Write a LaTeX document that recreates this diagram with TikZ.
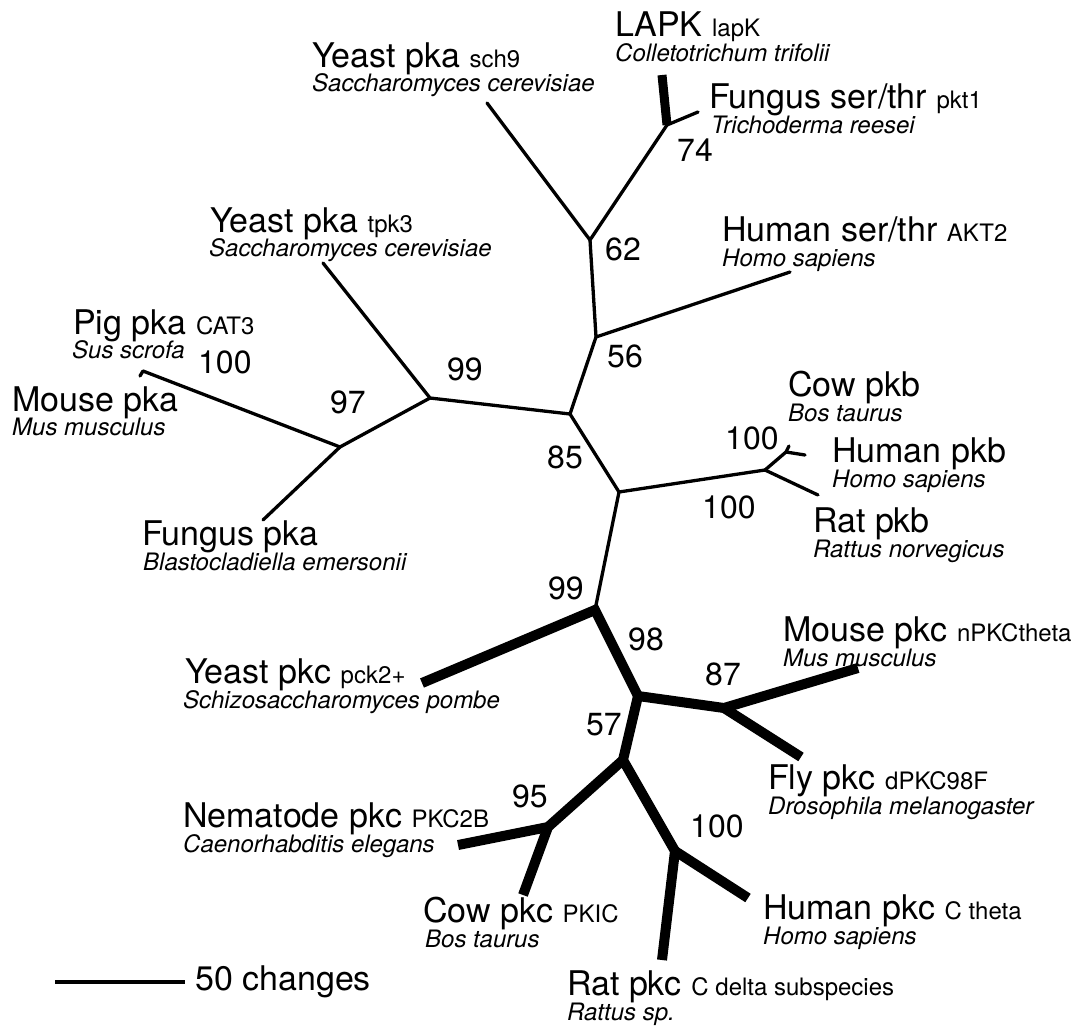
\documentclass[tikz,border=0pt]{standalone}
\usepackage{fontspec}
\setmainfont{TeX Gyre Heros}
\newcommand\cd[1]{{\fontsize{24}{28}\selectfont #1}}
\begin{document}
\begin{tikzpicture}[x=1pt,y=-1pt,
  brthin/.style={line width=3.3pt, line cap=round, line join=round},
  brthick/.style={line width=10pt, line cap=butt, line join=miter},
  jdot/.style={fill=black},
  lab/.style={anchor=base west, inner sep=0pt, font=\fontsize{34}{40}\selectfont},
  spc/.style={anchor=base west, inner sep=0pt, font=\fontsize{24}{28}\selectfont\itshape},
  num/.style={anchor=base west, inner sep=0pt, font=\fontsize{32}{38}\selectfont}]
\useasboundingbox (0,0) rectangle (1081,1025);

% junctions and tips
\coordinate (n74) at (667,125);
\coordinate (tLAPK) at (662,75);
\coordinate (tPKT1) at (698,112);
\coordinate (n62) at (590,240);
\coordinate (tSCH9) at (487,103);
\coordinate (n56) at (596,337);
\coordinate (tAKT2) at (790,272);
\coordinate (n85) at (570,414);
\coordinate (n99a) at (430,398);
\coordinate (tTPK3) at (323,263);
\coordinate (n97) at (340,447);
\coordinate (tPIG) at (143,371);
\coordinate (tMOUSEA) at (140,376);
\coordinate (tFUNGA) at (263,520);
\coordinate (npkb) at (619,492);
\coordinate (npkb2) at (765,470);
\coordinate (tRATB) at (818,495);
\coordinate (npkb3) at (786,452);
\coordinate (tCOWB) at (789,446);
\coordinate (tHUMB) at (805,455);
\coordinate (n99b) at (595,610);
\coordinate (tYPKC) at (422,683);
\coordinate (n98) at (638,696);
\coordinate (n87) at (724,708);
\coordinate (tMPKC) at (858,668);
\coordinate (tFLY) at (801,757);
\coordinate (n57) at (623,760);
\coordinate (n95) at (548,827);
\coordinate (tNEM) at (458,845);
\coordinate (tCOWC) at (523,895);
\coordinate (n100) at (675,851);
\coordinate (tHUMC) at (748,898);
\coordinate (tRATC) at (662,960);
\coordinate (sb1) at (55,982);
\coordinate (sb2) at (185,982);

% thin branches
\draw[brthin] (tSCH9) -- (n62) -- (n74) -- (tPKT1);
\draw[brthin] (n62) -- (n56) -- (tAKT2);
\draw[brthin] (n56) -- (n85) -- (n99a) -- (tTPK3);
\draw[brthin] (n99a) -- (n97) -- (tPIG) -- (tMOUSEA);
\draw[brthin] (n97) -- (tFUNGA);
\draw[brthin] (n85) -- (npkb) -- (npkb2) -- (tRATB);
\draw[brthin] (npkb2) -- (npkb3) -- (tCOWB);
\draw[brthin] (npkb3) -- (tHUMB);
\draw[brthin] (npkb) -- (n99b);

% thick branches
\draw[brthick, line width=9pt] (n74) -- (tLAPK);
\draw[brthick] (tYPKC) -- (n99b) -- (n98) -- (n87) -- (tMPKC);
\draw[brthick] (n87) -- (tFLY);
\draw[brthick] (n98) -- (n57) -- (n100) -- (tRATC);
\draw[brthick] (n100) -- (tHUMC);
\draw[brthick] (n57) -- (n95) -- (tNEM);
\draw[brthick] (n95) -- (tCOWC);
\foreach \j in {n99b,n98,n87,n57,n95,n100} \fill[jdot] (\j) circle (5pt);

% scale bar
\draw[line width=4pt] (sb1) -- (sb2);
\node[lab] (scl) at (195,990) {50 changes};

% taxon labels
\node[lab] (lapk) at (615,37) {LAPK \cd{lapK}};
\node[spc] (lapks) at (615,62) {Colletotrichum trifolii};
\node[lab] (pkt1) at (709,108) {Fungus ser/thr \cd{pkt1}};
\node[spc] (pkt1s) at (711,133) {Trichoderma reesei};
\node[lab] (sch9) at (312,67) {Yeast pka \cd{sch9}};
\node[spc] (sch9s) at (312,92) {Saccharomyces cerevisiae};
\node[lab] (akt2) at (722,241) {Human ser/thr \cd{AKT2}};
\node[spc] (akt2s) at (722,266) {Homo sapiens};
\node[lab] (tpk3) at (210,232) {Yeast pka \cd{tpk3}};
\node[spc] (tpk3s) at (209,256) {Saccharomyces cerevisiae};
\node[lab] (pig) at (73,334) {Pig pka \cd{CAT3}};
\node[spc] (pigs) at (72,358) {Sus scrofa};
\node[lab] (mousea) at (12,411) {Mouse pka};
\node[spc] (mouseas) at (12,435) {Mus musculus};
\node[lab] (funga) at (142,545) {Fungus pka};
\node[spc] (fungas) at (143,570) {Blastocladiella emersonii};
\node[lab] (cowb) at (788,396) {Cow pkb};
\node[spc] (cowbs) at (788,421) {Bos taurus};
\node[lab] (humb) at (832,462) {Human pkb};
\node[spc] (humbs) at (832,487) {Homo sapiens};
\node[lab] (ratb) at (813,532) {Rat pkb};
\node[spc] (ratbs) at (813,557) {Rattus norvegicus};
\node[lab] (mpkc) at (783,641) {Mouse pkc \cd{nPKCtheta}};
\node[spc] (mpkcs) at (783,666) {Mus musculus};
\node[lab] (fly) at (768,789) {Fly pkc \cd{dPKC98F}};
\node[spc] (flys) at (768,814) {Drosophila melanogaster};
\node[lab] (humc) at (763,919) {Human pkc \cd{C theta}};
\node[spc] (humcs) at (763,944) {Homo sapiens};
\node[lab] (ratc) at (567,995) {Rat pkc \cd{C delta subspecies}};
\node[spc] (ratcs) at (567,1020) {Rattus sp.};
\node[lab] (cowc) at (423,922) {Cow pkc \cd{PKIC}};
\node[spc] (cowcs) at (425,947) {Bos taurus};
\node[lab] (nem) at (183,827) {Nematode pkc \cd{PKC2B}};
\node[spc] (nems) at (183,852) {Caenorhabditis elegans};
\node[lab] (ypkc) at (185,683) {Yeast pkc \cd{pck2+}};
\node[spc] (ypkcs) at (183,708) {Schizosaccharomyces pombe};

% bootstrap values
\node[num] (b74) at (677,161) {74};
\node[num] (b62) at (605,260) {62};
\node[num] (b56) at (607,367) {56};
\node[num] (b99a) at (447,380) {99};
\node[num] (b100a) at (198,373) {100};
\node[num] (b97) at (330,413) {97};
\node[num] (b85) at (547,468) {85};
\node[num] (b100b) at (725,449) {100};
\node[num] (b100c) at (702,518) {100};
\node[num] (b99b) at (548,599) {99};
\node[num] (b98) at (628,650) {98};
\node[num] (b87) at (705,685) {87};
\node[num] (b57) at (586,735) {57};
\node[num] (b95) at (512,807) {95};
\node[num] (b100d) at (690,837) {100};
\end{tikzpicture}
\end{document}
